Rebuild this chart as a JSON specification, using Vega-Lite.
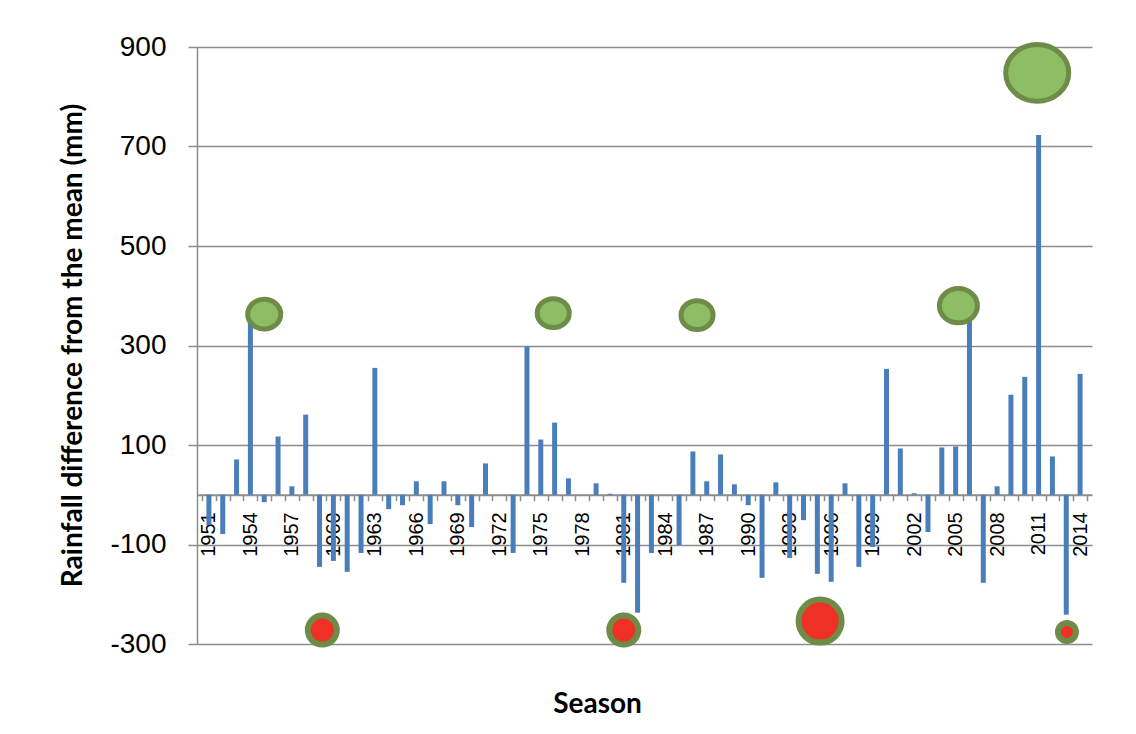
{
  "$schema": "https://vega.github.io/schema/vega-lite/v6.json",
  "width": 895,
  "height": 597,
  "autosize": {"type": "none"},
  "padding": {"left": 197, "top": 47, "right": 44, "bottom": 90},
  "background": "white",
  "config": {"view": {"stroke": null}},
  "datasets": {
    "rain": [
      {"year": 1951, "diff": -61}, {"year": 1952, "diff": -79}, {"year": 1953, "diff": 71},
      {"year": 1954, "diff": 355}, {"year": 1955, "diff": -15}, {"year": 1956, "diff": 117},
      {"year": 1957, "diff": 17}, {"year": 1958, "diff": 161}, {"year": 1959, "diff": -145},
      {"year": 1960, "diff": -133}, {"year": 1961, "diff": -155}, {"year": 1962, "diff": -117},
      {"year": 1963, "diff": 255}, {"year": 1964, "diff": -29}, {"year": 1965, "diff": -21},
      {"year": 1966, "diff": 27}, {"year": 1967, "diff": -59}, {"year": 1968, "diff": 27},
      {"year": 1969, "diff": -21}, {"year": 1970, "diff": -65}, {"year": 1971, "diff": 63},
      {"year": 1972, "diff": 0}, {"year": 1973, "diff": -117}, {"year": 1974, "diff": 298},
      {"year": 1975, "diff": 111}, {"year": 1976, "diff": 145}, {"year": 1977, "diff": 33},
      {"year": 1978, "diff": 0}, {"year": 1979, "diff": 23}, {"year": 1980, "diff": 2},
      {"year": 1981, "diff": -177}, {"year": 1982, "diff": -237}, {"year": 1983, "diff": -117},
      {"year": 1984, "diff": 0}, {"year": 1985, "diff": -101}, {"year": 1986, "diff": 87},
      {"year": 1987, "diff": 27}, {"year": 1988, "diff": 81}, {"year": 1989, "diff": 21},
      {"year": 1990, "diff": -21}, {"year": 1991, "diff": -167}, {"year": 1992, "diff": 25},
      {"year": 1993, "diff": -127}, {"year": 1994, "diff": -51}, {"year": 1995, "diff": -159},
      {"year": 1996, "diff": -175}, {"year": 1997, "diff": 23}, {"year": 1998, "diff": -145},
      {"year": 1999, "diff": -105}, {"year": 2000, "diff": 253}, {"year": 2001, "diff": 93},
      {"year": 2002, "diff": 3}, {"year": 2003, "diff": -75}, {"year": 2004, "diff": 95},
      {"year": 2005, "diff": 97}, {"year": 2006, "diff": 360}, {"year": 2007, "diff": -177},
      {"year": 2008, "diff": 17}, {"year": 2009, "diff": 201}, {"year": 2010, "diff": 237},
      {"year": 2011, "diff": 723}, {"year": 2012, "diff": 77}, {"year": 2013, "diff": -241},
      {"year": 2014, "diff": 243}
    ],
    "wet": [
      {"pos": 1955.0, "level": 363, "magnitude": 33},
      {"pos": 1975.9, "level": 365, "magnitude": 32},
      {"pos": 1986.3, "level": 361, "magnitude": 32},
      {"pos": 2005.2, "level": 380, "magnitude": 38},
      {"pos": 2010.9, "level": 848, "magnitude": 63}
    ],
    "dry": [
      {"pos": 1959.2, "level": -272, "magnitude": 29},
      {"pos": 1981.0, "level": -272, "magnitude": 29},
      {"pos": 1995.2, "level": -254, "magnitude": 43},
      {"pos": 2013.05, "level": -276, "magnitude": 18}
    ]
  },
  "resolve": {"axis": {"x": "independent", "y": "independent"}},
  "layer": [
    {
      "data": {"name": "rain"},
      "mark": {"type": "bar", "size": 5, "color": "#4A7EBB"},
      "encoding": {
        "x": {
          "field": "year", "type": "quantitative",
          "scale": {"domain": [1950.5, 2014.5], "nice": false, "zero": false},
          "axis": {
            "orient": "bottom",
            "values": [1951, 1954, 1957, 1960, 1963, 1966, 1969, 1972, 1975, 1978, 1981, 1984, 1987, 1990, 1993, 1996, 1999, 2002, 2005, 2008, 2011, 2014],
            "format": "d",
            "labelAngle": -90,
            "labelFont": "Liberation Sans",
            "labelFontSize": 20,
            "labelColor": "#000000",
            "labelPadding": 17,
            "labelFlush": false,
            "labelOverlap": false,
            "labelBound": false,
            "ticks": false,
            "domain": false,
            "grid": false,
            "offset": -149.25,
            "title": "Season",
            "titleFont": "Lato",
            "titleFontSize": 28,
            "titleFontWeight": "bold",
            "titleColor": "#000000",
            "titleX": 400,
            "titleY": 218,
            "titleAlign": "center",
            "titleBaseline": "alphabetic"
          }
        },
        "y": {
          "field": "diff", "type": "quantitative",
          "scale": {"domain": [-300, 900], "nice": false},
          "axis": {
            "orient": "left",
            "values": [-300, -100, 100, 300, 500, 700, 900],
            "labelExpr": "'' + datum.value",
            "grid": true,
            "gridColor": "#8C8C8C",
            "gridWidth": 1.5,
            "domain": true,
            "domainColor": "#8C8C8C",
            "domainWidth": 1.5,
            "tickColor": "#8C8C8C",
            "tickWidth": 1.5,
            "tickSize": 9,
            "labelFont": "Liberation Sans",
            "labelFontSize": 28,
            "labelColor": "#000000",
            "labelPadding": 22,
            "title": "Rainfall difference from the mean (mm)",
            "titleFont": "Lato",
            "titleFontSize": 28,
            "titleFontWeight": "bold",
            "titleColor": "#000000",
            "titleAngle": -90,
            "titleX": -124,
            "titleY": 298,
            "titleAlign": "center",
            "titleBaseline": "middle"
          }
        }
      }
    },
    {
      "data": {"name": "wet"},
      "mark": {"type": "point", "filled": true, "opacity": 1, "shape": "M-1,0A1,0.9,0,1,0,1,0A1,0.9,0,1,0,-1,0Z", "fill": "#8DBD64", "stroke": "#6E8B47", "strokeWidth": 5},
      "encoding": {
        "x": {
          "field": "pos", "type": "quantitative",
          "axis": {
            "orient": "bottom",
            "values": [1950.5, 1951.5, 1952.5, 1953.5, 1954.5, 1955.5, 1956.5, 1957.5, 1958.5, 1959.5, 1960.5, 1961.5, 1962.5, 1963.5, 1964.5, 1965.5, 1966.5, 1967.5, 1968.5, 1969.5, 1970.5, 1971.5, 1972.5, 1973.5, 1974.5, 1975.5, 1976.5, 1977.5, 1978.5, 1979.5, 1980.5, 1981.5, 1982.5, 1983.5, 1984.5, 1985.5, 1986.5, 1987.5, 1988.5, 1989.5, 1990.5, 1991.5, 1992.5, 1993.5, 1994.5, 1995.5, 1996.5, 1997.5, 1998.5, 1999.5, 2000.5, 2001.5, 2002.5, 2003.5, 2004.5, 2005.5, 2006.5, 2007.5, 2008.5, 2009.5, 2010.5, 2011.5, 2012.5, 2013.5, 2014.5],
            "labels": false,
            "ticks": true,
            "tickSize": 6,
            "tickColor": "#8C8C8C",
            "tickWidth": 1.5,
            "domain": true,
            "domainColor": "#8C8C8C",
            "domainWidth": 2,
            "grid": false,
            "offset": -149.25,
            "title": null
          }
        },
        "y": {"field": "level", "type": "quantitative", "axis": null},
        "size": {"field": "magnitude", "type": "quantitative", "scale": {"type": "pow", "exponent": 2, "domain": [0, 100], "range": [0, 10000]}, "legend": null}
      }
    },
    {
      "data": {"name": "dry"},
      "mark": {"type": "point", "filled": true, "opacity": 1, "shape": "circle", "fill": "#EE3124", "stroke": "#6E8B47", "strokeWidth": 6},
      "encoding": {
        "x": {"field": "pos", "type": "quantitative", "axis": null},
        "y": {"field": "level", "type": "quantitative", "axis": null},
        "size": {"field": "magnitude", "type": "quantitative", "legend": null}
      }
    }
  ]
}
